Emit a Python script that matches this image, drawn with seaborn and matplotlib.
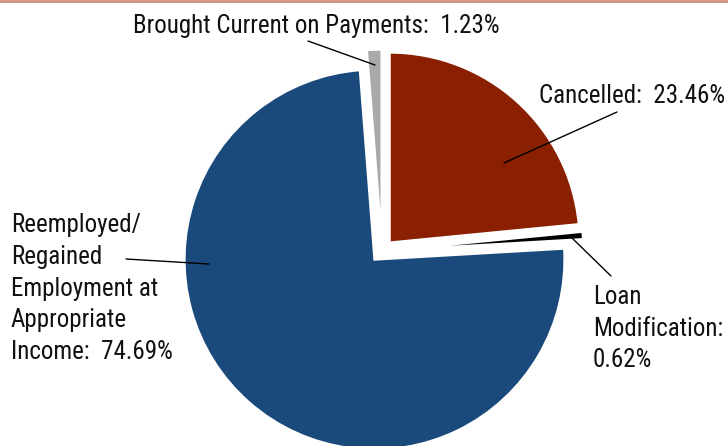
import matplotlib
matplotlib.use("Agg")
import matplotlib.pyplot as plt
import seaborn as sns
from matplotlib import font_manager

sns.set_theme(style="white")

# ---- data ----
categories = ["Cancelled", "Loan Modification", "Reemployed/Regained Employment at Appropriate Income",
              "Brought Current on Payments"]
values = [23.46, 0.62, 74.69, 1.23]
colors = ["#8A2000", "#000000", "#1A4A7B", "#A8A9AB"]

names = {f.name for f in font_manager.fontManager.ttflist}
fam = "Liberation Sans"
for cand in ["Liberation Sans Narrow", "Arial Narrow", "Roboto Condensed", "Archivo Narrow",
             "PT Sans Narrow", "Open Sans Condensed", "Asap Condensed"]:
    if cand in names:
        fam = cand
        break
plt.rcParams["font.family"] = [fam, "DejaVu Sans"]

W, H = 728, 446
fig = plt.figure(figsize=(W / 100, H / 100), dpi=100)
ax = fig.add_axes([0, 0, 1, 1])

cx, cy, R = 382, 251, 190  # pixel layout of pie
wedges, _ = ax.pie(values, colors=colors, startangle=90, counterclock=False,
                   explode=[0.06, 0.06, 0.06, 0.06], radius=1,
                   wedgeprops=dict(edgecolor="white", linewidth=1.6))
ax.set_xlim(-cx / R, (W - cx) / R)
ax.set_ylim(-(H - cy) / R, cy / R)
ax.set_aspect("auto")
ax.axis("off")


def px(x, y):
    return ((x - cx) / R, (cy - y) / R)


pct = [f"{v:.2f}%" for v in values]
tc = "#111111"

# choose font size so that the Cancelled label is ~186 px wide
renderer = fig.canvas.get_renderer()
probe = ax.text(0, 0, f"Cancelled:  {pct[0]}", fontsize=18)
wpx = probe.get_window_extent(renderer).width
probe.remove()
fs = min(18.5, 18 * 186 / wpx)

# top rule
fig.add_artist(plt.Line2D([0, 1], [1 - 1 / H, 1 - 1 / H], transform=fig.transFigure,
                          color="#CF8E80", linewidth=2.0))

# Brought Current
ax.text(*px(133, 33), f"Brought Current on Payments:  {pct[3]}", fontsize=fs, color=tc,
        ha="left", va="baseline")
ax.plot(*zip(px(308, 41), px(375, 65)), color="black", lw=1)

# Cancelled
ax.text(*px(539, 103), f"Cancelled:  {pct[0]}", fontsize=fs, color=tc, ha="left", va="baseline")
ax.plot(*zip(px(617, 112), px(504, 163)), color="black", lw=1)

# Loan Modification
for i, line in enumerate(["Loan", "Modification:", pct[1]]):
    ax.text(*px(593, 304 + i * 31.5), line, fontsize=fs, color=tc, ha="left", va="baseline")
ax.plot(*zip(px(572, 238), px(611, 276)), color="black", lw=1)

# Reemployed
for i, line in enumerate(["Reemployed/", "Regained", "Employment at", "Appropriate",
                          f"Income:  {pct[2]}"]):
    ax.text(*px(11, 232 + i * 31.8), line, fontsize=fs, color=tc, ha="left", va="baseline")
ax.plot(*zip(px(126, 259), px(209, 264)), color="black", lw=1)

fig.savefig("out.png", dpi=100, facecolor="white")
